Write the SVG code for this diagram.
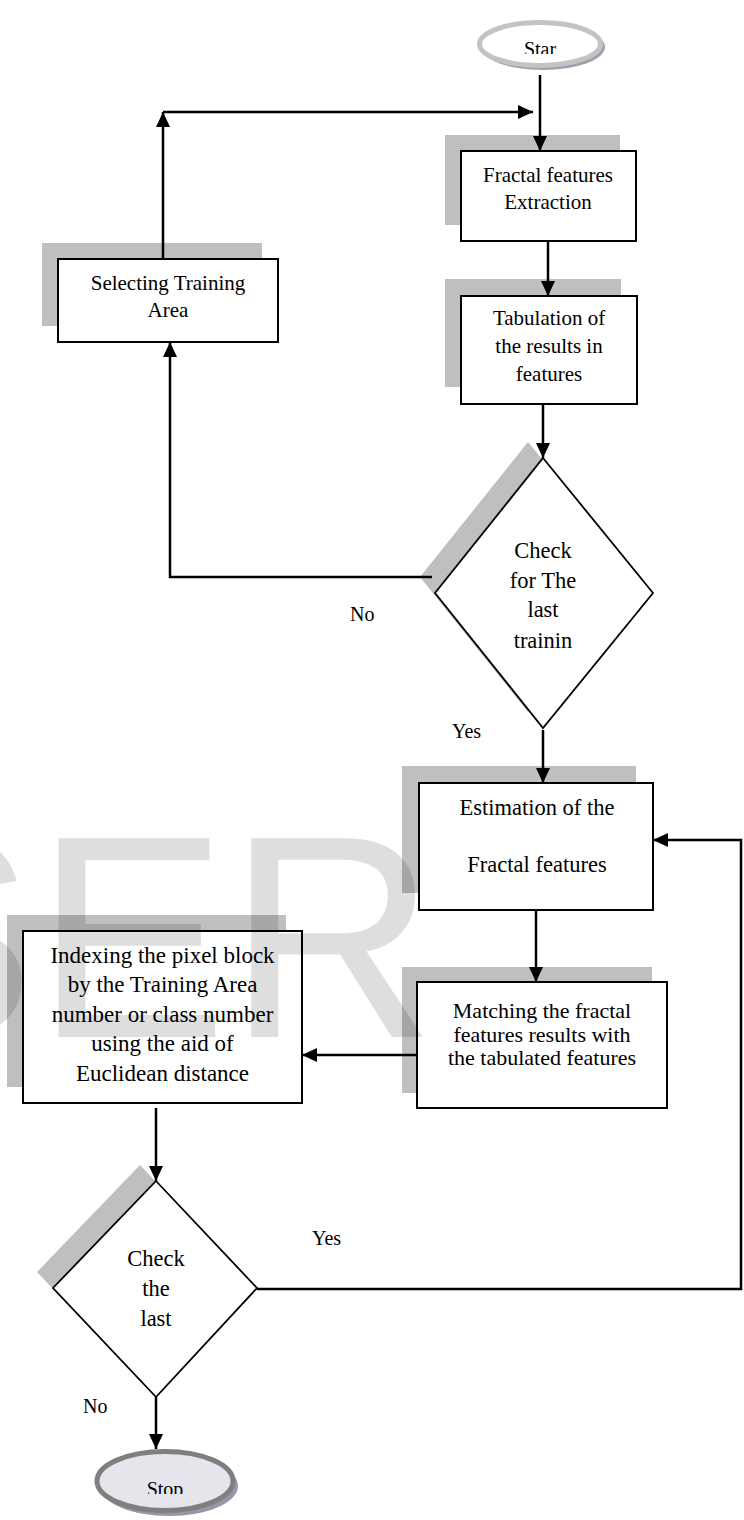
<svg xmlns="http://www.w3.org/2000/svg" width="744" height="1520" viewBox="0 0 744 1520">
<style>
.box{fill:#fff;stroke:#000;stroke-width:2}
.dia{fill:#fff;stroke:#000;stroke-width:1.8}
.shadow{fill:#bfbfbf}
.t{font-family:"Liberation Serif","Times New Roman",serif;fill:#000;text-anchor:middle}
.lbl{font-family:"Liberation Serif","Times New Roman",serif;fill:#000;font-size:20px}
.conn{fill:none;stroke:#000;stroke-width:2.5}
.wm{font-family:"Liberation Sans",Arial,sans-serif;font-size:289px;fill:#000;fill-opacity:0.13}
</style>
<defs>
<marker id="ah" markerUnits="userSpaceOnUse" markerWidth="16" markerHeight="14" refX="15" refY="7" orient="auto">
<path d="M0,0 L15,7 L0,14 z" fill="#000"/>
</marker>
<clipPath id="clipStar"><rect x="470" y="0" width="140" height="54"/></clipPath>
<clipPath id="clipStop"><rect x="90" y="1440" width="150" height="54"/></clipPath>
</defs>

<g id="start">
<ellipse cx="543" cy="47" rx="62" ry="23" fill="#a59cb0"/>
<ellipse cx="540" cy="44" rx="60.5" ry="21.5" fill="#fff" stroke="#c3c3c3" stroke-width="5"/>
<text class="t" x="540" y="56" font-size="20" clip-path="url(#clipStar)">Star</text>
</g>

<g id="fractal">
<rect class="shadow" x="445" y="135" width="175" height="90"/>
<rect class="box" x="461" y="151" width="175" height="90"/>
<text class="t" font-size="21"><tspan x="548" y="182">Fractal features</tspan><tspan x="548" y="209">Extraction</tspan></text>
</g>

<g id="tabulation">
<rect class="shadow" x="445" y="279" width="176" height="108"/>
<rect class="box" x="461" y="296" width="176" height="108"/>
<text class="t" font-size="21"><tspan x="549" y="325">Tabulation of</tspan><tspan x="549" y="353">the results in</tspan><tspan x="549" y="381">features</tspan></text>
</g>

<g id="selecting">
<rect class="shadow" x="42" y="243" width="220" height="83"/>
<rect class="box" x="58" y="259" width="220" height="83"/>
<text class="t" font-size="21"><tspan x="168" y="290">Selecting Training</tspan><tspan x="168" y="317">Area</tspan></text>
</g>

<g id="check1">
<polygon class="shadow" points="528,442 638,577 528,712 420,577"/>
<polygon class="dia" points="543,458 653,593 543,728 435,593"/>
<text class="t" font-size="22.5"><tspan x="543" y="558">Check</tspan><tspan x="543" y="588">for The</tspan><tspan x="543" y="617">last</tspan><tspan x="543" y="648">trainin</tspan></text>
</g>

<g id="estimation">
<rect class="shadow" x="402" y="766" width="234" height="127"/>
<rect class="box" x="419" y="783" width="234" height="127"/>
<text class="t" font-size="22.5"><tspan x="537" y="815">Estimation of the</tspan><tspan x="537" y="872">Fractal features</tspan></text>
</g>

<g id="matching">
<rect class="shadow" x="402" y="967" width="250" height="126"/>
<rect class="box" x="417" y="982" width="250" height="126"/>
<text class="t" font-size="22"><tspan x="542" y="1018">Matching the fractal</tspan><tspan x="542" y="1042">features results with</tspan><tspan x="542" y="1065">the tabulated features</tspan></text>
</g>

<g id="indexing">
<rect class="shadow" x="7" y="915" width="279" height="172"/>
<rect class="box" x="23" y="931" width="279" height="172"/>
<text class="t" font-size="23"><tspan x="162.5" y="963">Indexing the pixel block</tspan><tspan x="162.5" y="992">by the Training Area</tspan><tspan x="162.5" y="1022">number or class number</tspan><tspan x="162.5" y="1051">using the aid of</tspan><tspan x="162.5" y="1081">Euclidean distance</tspan></text>
</g>

<g id="check2">
<polygon class="shadow" points="140,1165 241,1272 140,1381 37,1272"/>
<polygon class="dia" points="156,1181 257,1288 156,1397 53,1288"/>
<text class="t" font-size="22.5"><tspan x="156" y="1266">Check</tspan><tspan x="156" y="1296">the</tspan><tspan x="156" y="1326">last</tspan></text>
</g>

<g id="stop">
<ellipse cx="169" cy="1486" rx="69" ry="30" fill="#9d94ab"/>
<ellipse cx="165" cy="1481" rx="68" ry="29.5" fill="#e6e5ec" stroke="#7f7f7f" stroke-width="5"/>
<text class="t" x="165" y="1496" font-size="20" clip-path="url(#clipStop)">Stop</text>
</g>

<g id="connectors">
<path class="conn" d="M540,75 L540,151" marker-end="url(#ah)"/>
<path class="conn" d="M163,259 L163,112" marker-end="url(#ah)"/>
<path class="conn" d="M163,112 L533,112" marker-end="url(#ah)"/>
<path class="conn" d="M548,241 L548,296" marker-end="url(#ah)"/>
<path class="conn" d="M543,404 L543,458" marker-end="url(#ah)"/>
<path class="conn" d="M432,577 L170,577 L170,342" marker-end="url(#ah)"/>
<path class="conn" d="M543,730 L543,783" marker-end="url(#ah)"/>
<path class="conn" d="M536,910 L536,982" marker-end="url(#ah)"/>
<path class="conn" d="M417,1055 L302,1055" marker-end="url(#ah)"/>
<path class="conn" d="M156,1108 L156,1181" marker-end="url(#ah)"/>
<path class="conn" d="M156,1397 L156,1449" marker-end="url(#ah)"/>
<path class="conn" d="M257,1289 L741,1289 L741,840 L653,840" marker-end="url(#ah)"/>
</g>

<g id="labels">
<text class="lbl" x="350" y="621">No</text>
<text class="lbl" x="452" y="738">Yes</text>
<text class="lbl" x="312" y="1245">Yes</text>
<text class="lbl" x="83" y="1413">No</text>
</g>

<text class="wm" x="-158" y="1037">SER</text>
</svg>
